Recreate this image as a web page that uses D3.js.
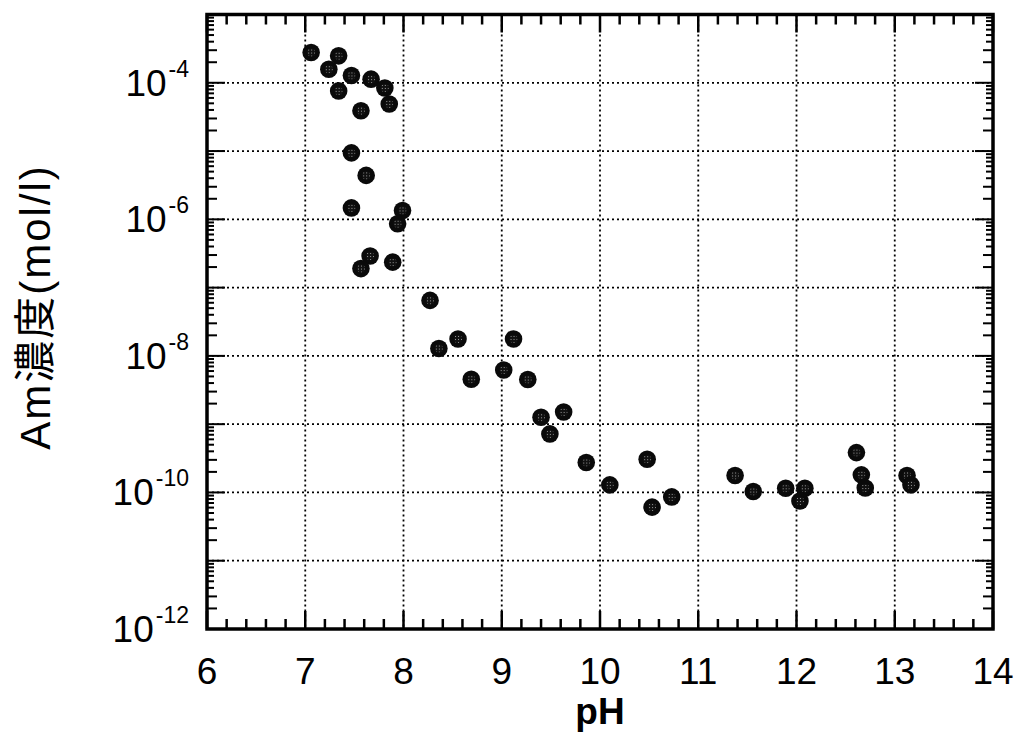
<!DOCTYPE html>
<html>
<head>
<meta charset="utf-8">
<script src="https://cdn.jsdelivr.net/npm/d3@7"></script>
<style>
  html, body { margin: 0; padding: 0; background: #fff; }
  #graphicContainer { width: 1015px; height: 737px; }
  text { font-family: "Liberation Sans", Arial, Helvetica, sans-serif; fill: #000; }
</style>
</head>
<body>
<div id="graphicContainer"></div>
<script>

// pH of each sample
const pH = [
  7.06, 7.34, 7.24, 7.47, 7.67, 7.34, 7.81, 7.855, 7.567,
  7.47, 7.62, 7.47, 7.99, 7.94, 7.66, 7.567, 7.89,
  8.27, 8.555, 8.36, 9.12, 9.02, 8.69, 9.265, 9.63, 9.40, 9.49,
  9.86, 10.48, 10.10, 10.73, 10.53,
  11.375, 11.56, 11.89, 12.085, 12.035, 12.61, 12.66, 12.70, 13.125, 13.165
]

// Am concentration (mol/l)
const amConc = [
  2.77e-4, 2.48e-4, 1.58e-4, 1.28e-4, 1.13e-4, 7.6e-5, 8.4e-5, 4.9e-5, 3.9e-5,
  9.4e-6, 4.4e-6, 1.47e-6, 1.35e-6, 8.6e-7, 2.9e-7, 1.9e-7, 2.36e-7,
  6.5e-8, 1.77e-8, 1.28e-8, 1.77e-8, 6.2e-9, 4.55e-9, 4.5e-9, 1.51e-9, 1.26e-9, 7.2e-10,
  2.74e-10, 3.07e-10, 1.29e-10, 8.6e-11, 6.1e-11,
  1.77e-10, 1.03e-10, 1.15e-10, 1.15e-10, 7.5e-11, 3.83e-10, 1.81e-10, 1.16e-10, 1.77e-10, 1.29e-10
]

const xTicks = [6, 7, 8, 9, 10, 11, 12, 13, 14]
const yLabelExps = [-4, -6, -8, -10, -12]
const yGridExps = [-4, -5, -6, -7, -8, -9, -10, -11]

const xLabel = "pH"
const yLabel = "Am濃度(mol/l)"

const plotLeft = 207, plotRight = 993, plotTop = 14.5, plotBottom = 629

const svg = d3.select("#graphicContainer")
  .append("svg")
  .attr("width", 1015)
  .attr("height", 737)

const x = d3.scaleLinear()
  .domain([6, 14])
  .range([plotLeft, plotRight])

const y = d3.scaleLog()
  .domain([1e-12, 1e-3])
  .range([plotBottom, plotTop])

// speckle pattern for the markers
const defs = svg.append("defs")

const pat = defs.append("pattern")
  .attr("id", "speckle")
  .attr("patternUnits", "userSpaceOnUse")
  .attr("width", 3)
  .attr("height", 3)

pat.append("rect")
  .attr("width", 3)
  .attr("height", 3)
  .attr("fill", "#111")

pat.append("rect")
  .attr("width", 1)
  .attr("height", 1)
  .attr("fill", "#999")

// grid
const grid = svg.append("g").attr("class", "grid")

grid.selectAll("line.vg")
  .data(xTicks.filter(d => d > 6 && d < 14))
  .enter()
  .append("line")
  .attr("class", "vg")
  .attr("x1", d => x(d))
  .attr("x2", d => x(d))
  .attr("y1", plotTop)
  .attr("y2", plotBottom)

grid.selectAll("line.hg")
  .data(yGridExps)
  .enter()
  .append("line")
  .attr("class", "hg")
  .attr("x1", plotLeft)
  .attr("x2", plotRight)
  .attr("y1", d => y(Math.pow(10, d)))
  .attr("y2", d => y(Math.pow(10, d)))

grid.selectAll("line")
  .style("stroke", "#000")
  .style("stroke-width", 1.8)
  .style("stroke-dasharray", "2 3")

// x ticks, bottom and top, pointing inward
const xMinor = d3.range(6, 14.001, 0.2).map(d => +d.toFixed(1))

const xt = svg.append("g").attr("class", "xticks")

xMinor.forEach(v => {
  const major = Math.abs(v - Math.round(v)) < 1e-6
  const len = major ? 18 : 10
  xt.append("line")
    .attr("x1", x(v)).attr("x2", x(v))
    .attr("y1", plotBottom).attr("y2", plotBottom - len)
  xt.append("line")
    .attr("x1", x(v)).attr("x2", x(v))
    .attr("y1", plotTop).attr("y2", plotTop + len)
})

xt.selectAll("line")
  .style("stroke", "#000")
  .style("stroke-width", 2.5)

// y ticks, left and right, log minors
const yt = svg.append("g").attr("class", "yticks")

d3.range(-12, -2).forEach(e => {
  d3.range(1, 10).forEach(m => {
    if (e == -3 && m > 1) return
    const v = m * Math.pow(10, e)
    const len = m == 1 ? 18 : (m <= 3 ? 10 : 7)
    yt.append("line")
      .attr("x1", plotLeft).attr("x2", plotLeft + len)
      .attr("y1", y(v)).attr("y2", y(v))
    yt.append("line")
      .attr("x1", plotRight).attr("x2", plotRight - len)
      .attr("y1", y(v)).attr("y2", y(v))
  })
})

yt.selectAll("line")
  .style("stroke", "#000")
  .style("stroke-width", 2)

// frame
svg.append("rect")
  .attr("x", plotLeft)
  .attr("y", plotTop)
  .attr("width", plotRight - plotLeft)
  .attr("height", plotBottom - plotTop)
  .attr("fill", "none")
  .attr("stroke", "#000")
  .attr("stroke-width", 3.5)

// x tick labels
svg.append("g")
  .selectAll("text")
  .data(xTicks)
  .enter()
  .append("text")
  .attr("x", d => x(d))
  .attr("y", 684)
  .attr("text-anchor", "middle")
  .style("font-size", "37px")
  .text(d => d)

// y tick labels 10^n
const yl = svg.append("g")
  .selectAll("text")
  .data(yLabelExps)
  .enter()
  .append("text")
  .attr("x", 189)
  .attr("y", d => y(Math.pow(10, d)) + 13)
  .attr("text-anchor", "end")
  .style("font-size", "37px")

yl.append("tspan").text("10")

yl.append("tspan")
  .attr("dy", -19)
  .attr("dx", 2)
  .style("font-size", "23px")
  .text(d => "-" + Math.abs(d))

// markers
const dots = svg.append("g")
  .selectAll("g")
  .data(pH.map((p, i) => ({ pH: p, conc: amConc[i] })))
  .enter()
  .append("g")
  .attr("transform", d => "translate(" + x(d.pH) + "," + y(d.conc) + ")")

dots.append("circle")
  .attr("r", 8.8)
  .attr("fill", "#0a0a0a")

dots.append("circle")
  .attr("r", 4)
  .attr("fill", "url(#speckle)")

// axis titles
svg.append("text")
  .attr("x", (plotLeft + plotRight) / 2)
  .attr("y", 724)
  .attr("text-anchor", "middle")
  .style("font-size", "37px")
  .style("font-weight", "bold")
  .text(xLabel)

svg.append("text")
  .attr("transform", "translate(50,307) rotate(-90)")
  .attr("text-anchor", "middle")
  .style("font-size", "42px")
  .style("letter-spacing", "2px")
  .style("font-family", "'Liberation Sans', 'Noto Sans CJK JP', sans-serif")
  .text(yLabel)

</script>
</body>
</html>
